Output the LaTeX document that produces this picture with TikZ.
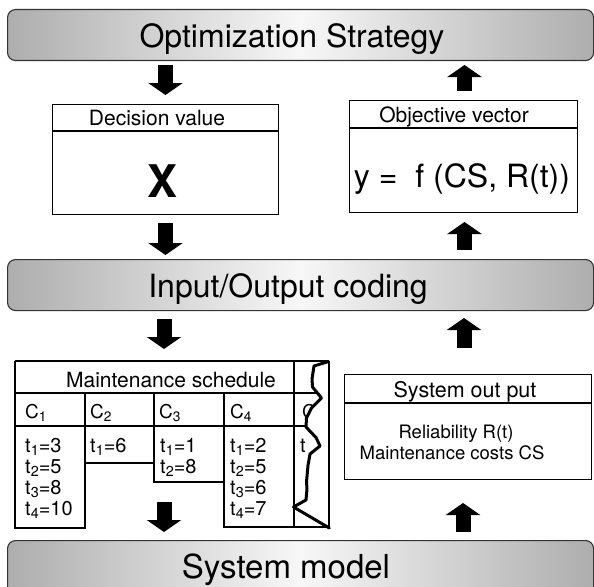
\documentclass[tikz,border=0pt]{standalone}
\usepackage{fontspec}
\setmainfont{TeX Gyre Heros}
\usepackage{graphicx}
\usetikzlibrary{arrows.meta}
\newcommand{\sbx}[1]{\raisebox{-0.35ex}{\scalebox{0.72}{#1}}}
\begin{document}
\begin{tikzpicture}[x=1pt,y=-1pt,
  bar/.style={draw=black!80, line width=1.1pt, rounded corners=8pt,
    left color=black!32, right color=black!32, middle color=black!3,
    minimum width=586pt, minimum height=51pt, anchor=north west, inner sep=0pt},
  bartext/.style={font=\fontsize{32}{38}\selectfont, inner sep=0pt, anchor=base},
  box/.style={draw=black, line width=1.3pt, fill=white, anchor=north west, inner sep=0pt},
  title/.style={font=\fontsize{21}{25}\selectfont, inner sep=0pt, anchor=base},
  cell/.style={font=\fontsize{20}{21}\selectfont, inner sep=0pt, anchor=base west},
  tline/.style={line width=1.2pt},
  blockarrow/.style={line width=15pt, -{Triangle[width=34pt,length=12pt]}},
]
\clip (0,0) rectangle (594,586);

% bars
\node[bar] (optbar) at (7,9) {};
\node[bartext] (opttext) at (292,48) {Optimization Strategy};
\node[bar] (iobar) at (7,259) {};
\node[bartext] (iotext) at (288,297) {Input/Output coding};
\node[bar, minimum height=70pt] (sysbar) at (7,540) {};
\node[bartext, font=\fontsize{33}{38}\selectfont] (systext) at (286,578) {System model};

% decision box
\node[box, minimum width=226pt, minimum height=110pt] (dec) at (52,104) {};
\draw[line width=1.3pt] ([yshift=-27pt]dec.north west) -- ([yshift=-27pt]dec.north east);
\node[title] (dectitle) at (157,125) {Decision value};
\node[inner sep=0pt, anchor=base, font=\fontsize{45}{50}\selectfont\bfseries] (decx) at (163,197) {X};

% objective box
\node[box, minimum width=228pt, minimum height=112pt] (obj) at (349,100) {};
\draw[line width=1.3pt] ([yshift=-28pt]obj.north west) -- ([yshift=-28pt]obj.north east);
\node[title] (objtitle) at (454,122) {Objective vector};
\node[inner sep=0pt, anchor=base, font=\fontsize{32}{36}\selectfont] (objf) at (462,187) {y =\ \ f (CS, R(t))};

% system output box
\node[box, minimum width=247pt, minimum height=105pt] (sysout) at (344,374) {};
\draw[line width=1.3pt] ([yshift=-29pt]sysout.north west) -- ([yshift=-29pt]sysout.north east);
\node[title, font=\fontsize{21.5}{25}\selectfont] (souttitle) at (465,397) {System out put};
\node[title, font=\fontsize{18.5}{22}\selectfont] (rel) at (456,438.5) {Reliability R(t)};
\node[title, font=\fontsize{18.5}{22}\selectfont] (cost) at (452,459.5) {Maintenance costs CS};

% maintenance schedule table
\draw[tline] (15,361) -- (329,361);
\draw[tline] (15,393) -- (329,393);
\draw[tline] (15,426) -- (329,426);
\draw[tline] (15,361) -- (15,528) -- (85,528) -- (85,393);
\draw[tline] (85,463) -- (154,463);
\draw[tline] (154,393) -- (154,482) -- (224,482);
\draw[tline] (224,393) -- (224,527) -- (329,527);
\draw[tline] (294,361) -- (294,527);
\node[title] (mstitle) at (171,387) {Maintenance schedule};
\node[cell, font=\fontsize{19}{21}\selectfont] (c1) at (25,418) {C\sbx{1}};
\node[cell, font=\fontsize{19}{21}\selectfont] (c2) at (90,418) {C\sbx{2}};
\node[cell, font=\fontsize{19}{21}\selectfont] (c3) at (159,418) {C\sbx{3}};
\node[cell, font=\fontsize{19}{21}\selectfont] (c4) at (230,418) {C\sbx{4}};
\node[cell, font=\fontsize{19}{21}\selectfont] (c5) at (302,418) {C};
\node[cell] (v11) at (25,452) {t\sbx{1}=3};
\node[cell] (v12) at (25,473) {t\sbx{2}=5};
\node[cell] (v13) at (25,494) {t\sbx{3}=8};
\node[cell] (v14) at (25,515) {t\sbx{4}=10};
\node[cell] (v21) at (90,452) {t\sbx{1}=6};
\node[cell] (v31) at (160,452) {t\sbx{1}=1};
\node[cell] (v32) at (160,473) {t\sbx{2}=8};
\node[cell] (v41) at (230,452) {t\sbx{1}=2};
\node[cell] (v42) at (230,473) {t\sbx{2}=5};
\node[cell] (v43) at (230,494) {t\sbx{3}=6};
\node[cell] (v44) at (230,515) {t\sbx{4}=7};
\node[cell] (v51) at (300,452) {t};
% torn edge
\fill[white] (328.5,361.5) -- (314,366) -- (312,379) -- (312.5,387) -- (321.5,398) -- (311.5,408)
  -- (306.5,418) -- (306,427) -- (316,437.5) -- (320,446) -- (310,454) -- (308,465.5)
  -- (306.5,482) -- (307,489) -- (306,500) -- (293.5,507) -- (329.3,528) -- (329.3,361.5) -- cycle;
\draw[line width=3pt, line join=round, line cap=round] (328.5,361.5) -- (314,366) -- (312,379) -- (312.5,387) -- (321.5,398) -- (311.5,408)
  -- (306.5,418) -- (306,427) -- (316,437.5) -- (320,446) -- (310,454) -- (308,465.5)
  -- (306.5,482) -- (307,489) -- (306,500) -- (293.5,507) -- (329.3,528);
\draw[tline] (329,361) -- (329,528);
\draw[tline] (224,527) -- (329,527);
\draw[tline] (294,361) -- (294,527);

% block arrows
\coordinate (a1s) at (165.5,65);  \coordinate (a1e) at (165.5,95);
\coordinate (a2s) at (464.5,91);  \coordinate (a2e) at (464.5,65);
\coordinate (a3s) at (165.5,223); \coordinate (a3e) at (165.5,255);
\coordinate (a4s) at (464.5,250); \coordinate (a4e) at (464.5,222);
\coordinate (a5s) at (164,319);   \coordinate (a5e) at (164,349);
\coordinate (a6s) at (464,348);   \coordinate (a6e) at (464,318);
\coordinate (a7s) at (164,502);   \coordinate (a7e) at (164,532);
\coordinate (a8s) at (463,532);   \coordinate (a8e) at (463,503);
\draw[blockarrow] (a1s) -- (a1e);
\draw[blockarrow] (a2s) -- (a2e);
\draw[blockarrow] (a3s) -- (a3e);
\draw[blockarrow] (a4s) -- (a4e);
\draw[blockarrow] (a5s) -- (a5e);
\draw[blockarrow] (a6s) -- (a6e);
\draw[blockarrow] (a7s) -- (a7e);
\draw[blockarrow] (a8s) -- (a8e);
\end{tikzpicture}
\end{document}
